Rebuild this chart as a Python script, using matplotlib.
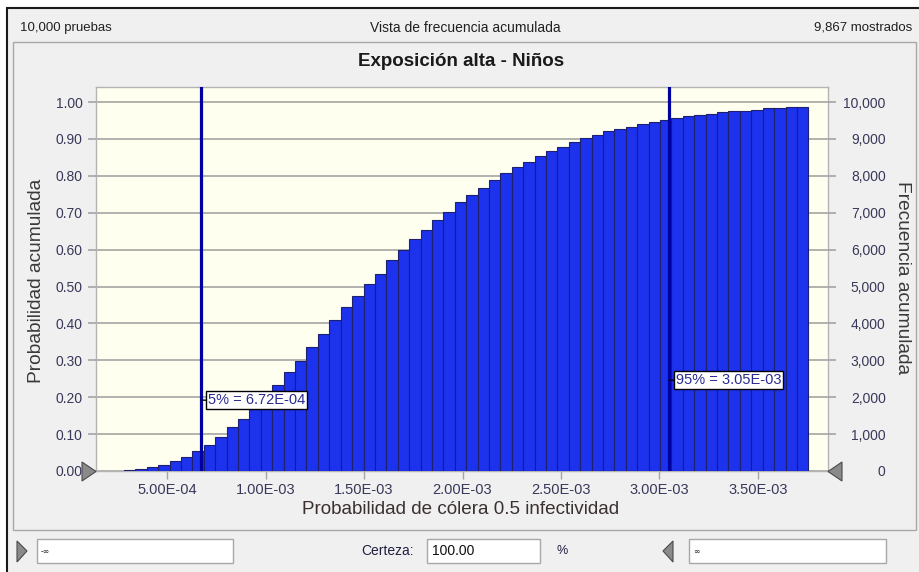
import numpy as np
import matplotlib
matplotlib.use("Agg")
import matplotlib.pyplot as plt
from matplotlib.patches import Rectangle, Polygon

plt.rcParams['font.family'] = ['Liberation Sans', 'DejaVu Sans']

# ---- data -------------------------------------------------------------
trials = 10000
shown = 9867
bin_lo = 2.80e-4
bin_hi = 3.757e-3
cum_prob = [
    0.004, 0.0065, 0.011, 0.017, 0.028, 0.038, 0.054, 0.0705, 0.092, 0.1185,
    0.140, 0.168, 0.207, 0.234, 0.267, 0.298, 0.3355, 0.3716, 0.408, 0.444,
    0.473, 0.5055, 0.535, 0.571, 0.5986, 0.628, 0.652, 0.680, 0.701, 0.728,
    0.748, 0.766, 0.7876, 0.8066, 0.8237, 0.838, 0.8527, 0.868, 0.879, 0.892,
    0.903, 0.911, 0.922, 0.928, 0.932, 0.940, 0.9466, 0.950, 0.9575, 0.961,
    0.9656, 0.968, 0.972, 0.9756, 0.9756, 0.979, 0.983, 0.983, 0.9864, 0.9867,
]
pct_levels = ["5%", "95%"]
pct_values = [6.72e-4, 3.05e-3]
pct_label_y = [0.192, 0.246]
x_ticks = [5.0e-4, 1.0e-3, 1.5e-3, 2.0e-3, 2.5e-3, 3.0e-3, 3.5e-3]
y_ticks = [0.0, 0.1, 0.2, 0.3, 0.4, 0.5, 0.6, 0.7, 0.8, 0.9, 1.0]
freq_ticks = [0, 1000, 2000, 3000, 4000, 5000, 6000, 7000, 8000, 9000, 10000]

title = "Exposición alta - Niños"
header_left = f"{trials:,} pruebas"
header_mid = "Vista de frecuencia acumulada"
header_right = f"{shown:,} mostrados"
xlabel = "Probabilidad de cólera 0.5 infectividad"
ylabel_left = "Probabilidad acumulada"
ylabel_right = "Frecuencia acumulada"
certainty = "100.00"

# ---- figure -----------------------------------------------------------
W, H = 920, 572
fig = plt.figure(figsize=(W / 100, H / 100), dpi=100, facecolor="white")


def fx(px):
    return px / W


def fy(py):
    return 1 - py / H


def rect(x0, y0, x1, y1, z=-10, **kw):
    r = Rectangle((fx(x0), fy(y1)), fx(x1) - fx(x0), fy(y0) - fy(y1),
                  transform=fig.transFigure, zorder=z, **kw)
    fig.add_artist(r)
    return r


def tri(pts, **kw):
    p = Polygon([(fx(a), fy(b)) for a, b in pts], closed=True,
                transform=fig.transFigure, zorder=5, **kw)
    fig.add_artist(p)


# window frame and chart panel
rect(7, 8, 930, 580, z=-20, facecolor="#f0f0f0", edgecolor="#1a1a1a", lw=1.5)
rect(13, 42, 916, 530, z=-15, facecolor="#f0f0f0", edgecolor="#a8a8a8", lw=1.0)

fig.text(fx(20), fy(28), header_left, ha="left", va="center", fontsize=9.5, color="#202020")
fig.text(fx(465), fy(28), header_mid, ha="center", va="center", fontsize=10, color="#202020")
fig.text(fx(912), fy(28), header_right, ha="right", va="center", fontsize=9.5, color="#202020")
fig.text(fx(461), fy(61), title, ha="center", va="center", fontsize=13.5,
         fontweight="bold", color="#1a1a1a")

# ---- plot area --------------------------------------------------------
px_left, px_right, px_top, px_bot = 96, 828, 87, 471
ax = fig.add_axes([fx(px_left), fy(px_bot), fx(px_right) - fx(px_left),
                   fy(px_top) - fy(px_bot)])
ax.set_facecolor("#fffff0")

n_bins = len(cum_prob)
edges = np.linspace(bin_lo, bin_hi, n_bins + 1)
width = edges[1] - edges[0]
ax.bar(edges[:-1], cum_prob, width=width, align="edge", color="#1c32ec",
       edgecolor="#1f1f70", linewidth=0.8, zorder=3)

x_unit_left = 1.377e-4
x_unit_right = 3.857e-3
y_top = 1.0407
ax.set_xlim(x_unit_left, x_unit_right)
ax.set_ylim(0, y_top)

ax.set_yticks(y_ticks)
ax.set_yticklabels([f"{v:.2f}" for v in y_ticks])
ax.set_xticks(x_ticks)
ax.set_xticklabels([f"{v:.2E}" for v in x_ticks])
ax.yaxis.grid(True, color="#a4a4a4", lw=1.2, zorder=1)
ax.set_axisbelow(True)

tick_col = "#38385a"
ax.tick_params(axis="y", length=6, width=1.2, color="#a4a4a4", pad=3.5,
               labelsize=10, labelcolor=tick_col)
ax.tick_params(axis="x", length=6, width=1.0, color="#a4a4a4", pad=3,
               labelsize=10.5, labelcolor=tick_col)
for s in ax.spines.values():
    s.set_color("#b4b4b4")
    s.set_linewidth(1.0)

ax2 = ax.twinx()
ax2.set_ylim(0, y_top * trials)
ax2.set_yticks(freq_ticks)
ax2.set_yticklabels([f"{v:,}" for v in freq_ticks])
ax2.tick_params(axis="y", length=6, width=1.2, color="#a4a4a4", pad=35.5,
                labelsize=10, labelcolor=tick_col)
for lab in ax2.get_yticklabels():
    lab.set_horizontalalignment("right")
for s in ax2.spines.values():
    s.set_visible(False)

# percentile markers
for name, val, ly in zip(pct_levels, pct_values, pct_label_y):
    ax.axvline(val, color="#0000a0", lw=2.3, zorder=4)
    ax.annotate(f"{name} = {val:.2E}", xy=(val, ly), xytext=(7, 0),
                textcoords="offset pixels", ha="left", va="center",
                fontsize=10.5, color="#2a2a90", zorder=6,
                bbox=dict(boxstyle="square,pad=0.12", fc="white", ec="black", lw=1.0),
                arrowprops=dict(arrowstyle="-", color="black", lw=1.0,
                                shrinkA=0, shrinkB=0))

# axis titles
fig.text(fx(37), fy(281), ylabel_left, rotation=90, ha="center", va="center",
         fontsize=13.8, color="#3a3a3a")
fig.text(fx(903), fy(278), ylabel_right, rotation=-90, ha="center", va="center",
         fontsize=13.8, color="#3a3a3a")
fig.text(fx(461), fy(509), xlabel, ha="center", va="center",
         fontsize=13.6, color="#3a3030")

# grabbers at the ends of the axis
tri([(82, 462), (96, 471.5), (82, 481)], facecolor="#8a8a8a", edgecolor="#4a4a4a", lw=0.8)
tri([(842, 462), (828, 471.5), (842, 481)], facecolor="#8a8a8a", edgecolor="#4a4a4a", lw=0.8)

# certainty controls
tri([(17, 541), (27, 551), (17, 562)], facecolor="#8a8a8a", edgecolor="#4a4a4a", lw=0.8)
tri([(673, 541), (663, 551), (673, 562)], facecolor="#8a8a8a", edgecolor="#4a4a4a", lw=0.8)
rect(37, 539, 233, 563, z=-5, facecolor="white", edgecolor="#a8a8a8", lw=1.0)
rect(427, 539, 540, 563, z=-5, facecolor="white", edgecolor="#a8a8a8", lw=1.0)
rect(689, 539, 886, 563, z=-5, facecolor="white", edgecolor="#a8a8a8", lw=1.0)
fig.text(fx(41), fy(551), "-∞", ha="left", va="center", fontsize=5.5, color="#202020",
         family=["DejaVu Sans"])
fig.text(fx(693), fy(551), "∞", ha="left", va="center", fontsize=5.5, color="#202020",
         family=["DejaVu Sans"])
fig.text(fx(414), fy(551), "Certeza:", ha="right", va="center", fontsize=10, color="#202040")
fig.text(fx(432), fy(551), certainty, ha="left", va="center", fontsize=10, color="#101010")
fig.text(fx(557), fy(551), "%", ha="left", va="center", fontsize=9, color="#202040")

fig.savefig("out.png", dpi=100, facecolor=fig.get_facecolor())
